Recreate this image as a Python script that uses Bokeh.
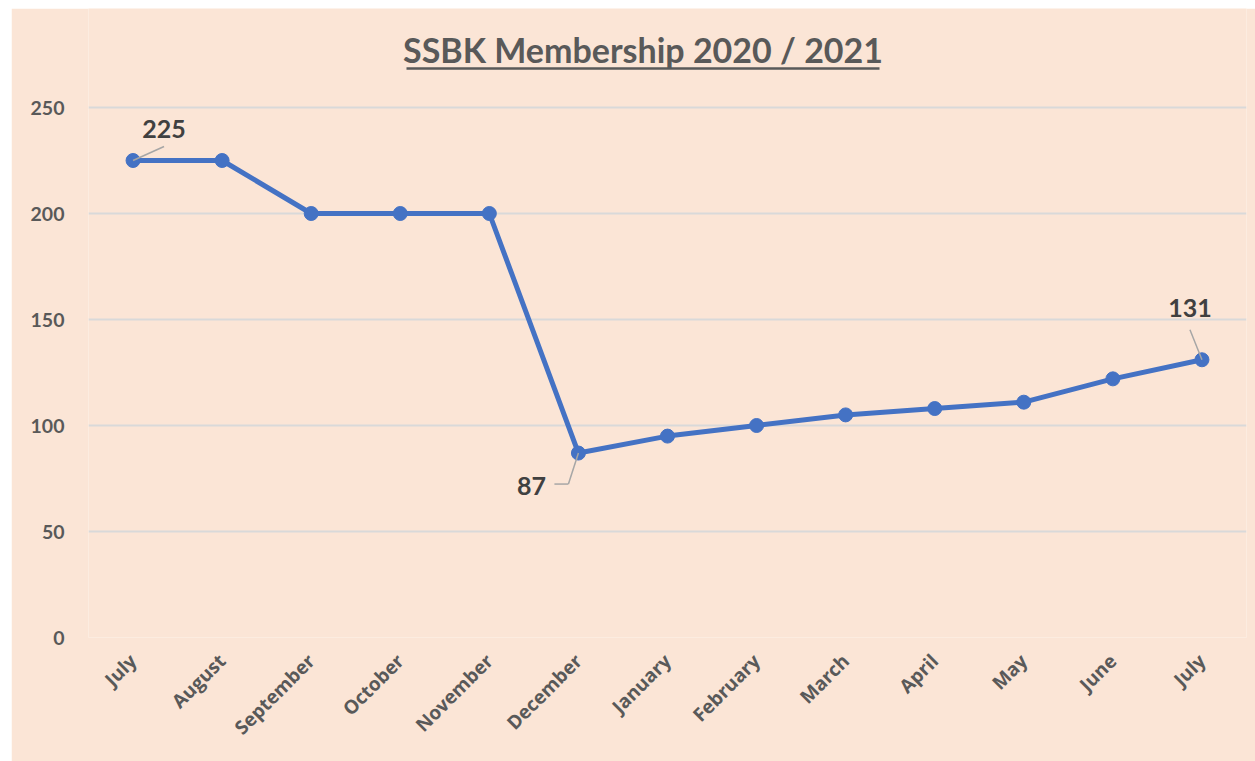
from bokeh.plotting import figure
from bokeh.models import Range1d, Label, FixedTicker
from bokeh.embed import file_html
from bokeh.resources import INLINE
import math

months = ["July", "August", "September", "October", "November", "December",
          "January", "February", "March", "April", "May", "June", "July"]
members = [225, 225, 200, 200, 200, 87, 95, 100, 105, 108, 111, 122, 131]
y_ticks = [0, 50, 100, 150, 200, 250]
title_text = "SSBK Membership 2020 / 2021"

FONT = "Lato"
XFONT = "Open Sans"
BG = "#FBE5D6"
GREY = "#595959"
LINE = "#4472C4"

xs = list(range(len(months)))

W, H = 1244, 753
ML, MR, MB = 77, 9, 124
AXIS_TOP_PX = 99                     # pixel distance from canvas top to the 250 gridline
PX_Y = (H - MB - AXIS_TOP_PX) / 250.0
Y_TOP = (H - MB) / PX_Y              # frame reaches the canvas top so the title area is inside it
PX_X = (W - ML - MR) / len(months)

p = figure(width=W, height=H, output_backend="svg", toolbar_location=None,
           x_range=Range1d(-0.5, len(months) - 0.5), y_range=Range1d(0, Y_TOP),
           min_border_left=ML, min_border_right=MR, min_border_top=0, min_border_bottom=MB)
p.margin = (8, 0, 0, 11)
p.background_fill_color = BG
p.border_fill_color = BG
p.outline_line_color = None

p.line(xs, members, line_color=LINE, line_width=5)
p.scatter(xs, members, size=14, fill_color=LINE, line_color=LINE)

p.yaxis.ticker = FixedTicker(ticks=y_ticks)
p.xaxis.ticker = FixedTicker(ticks=xs)
p.xaxis.major_label_overrides = {i: m for i, m in enumerate(months)}
p.xaxis.major_label_orientation = math.pi / 4
for ax in (p.xaxis, p.yaxis):
    ax.axis_line_color = None
    ax.major_tick_line_color = None
    ax.minor_tick_line_color = None
    ax.major_label_text_font_style = "bold"
    ax.major_label_text_color = GREY
p.yaxis.major_label_text_font = FONT
p.xaxis.major_label_text_font = XFONT
p.yaxis.major_label_text_font_size = "19.5px"
p.xaxis.major_label_text_font_size = "19px"
p.yaxis.major_label_standoff = 18
p.xaxis.major_label_standoff = 14

p.xgrid.grid_line_color = None
p.ygrid.grid_line_color = "#D9D9D9"
p.ygrid.grid_line_width = 2

# title with underline (placed in pixels above the 250 line)
title_cx = -0.5 + 554.5 / PX_X
title_half_w = 236.5 / PX_X
p.add_layout(Label(x=title_cx, y=250 + 58 / PX_Y, text=title_text,
                   text_font=FONT, text_font_size="34px", text_font_style="bold",
                   text_color=GREY, text_align="center", text_baseline="alphabetic"))
p.segment([title_cx - title_half_w], [250 + 39 / PX_Y], [title_cx + title_half_w], [250 + 39 / PX_Y],
          line_color=GREY, line_width=2.5)

# data labels for first, minimum and last points
label_specs = [(0, 31, 32, 31, 14), (5, -47, -33, -10, -31), (12, -12, 52, -12, 30)]
for idx, tx, ty, lx, ly in label_specs:
    x0, y0 = xs[idx], members[idx]
    p.add_layout(Label(x=x0, y=y0, x_offset=tx, y_offset=ty, text=str(members[idx]),
                       text_font=FONT, text_font_size="25px", text_font_style="bold",
                       text_color="#404040", text_align="center", text_baseline="middle"))
    xe = x0 + lx / PX_X
    ye = y0 + ly / PX_Y
    p.segment([x0], [y0], [xe], [ye], line_color="#A6A6A6", line_width=1.5)
    if idx == 5:
        p.segment([xe], [ye], [xe - 14 / PX_X], [ye], line_color="#A6A6A6", line_width=1.5)

open("out.html", "w").write(file_html(p, INLINE))
